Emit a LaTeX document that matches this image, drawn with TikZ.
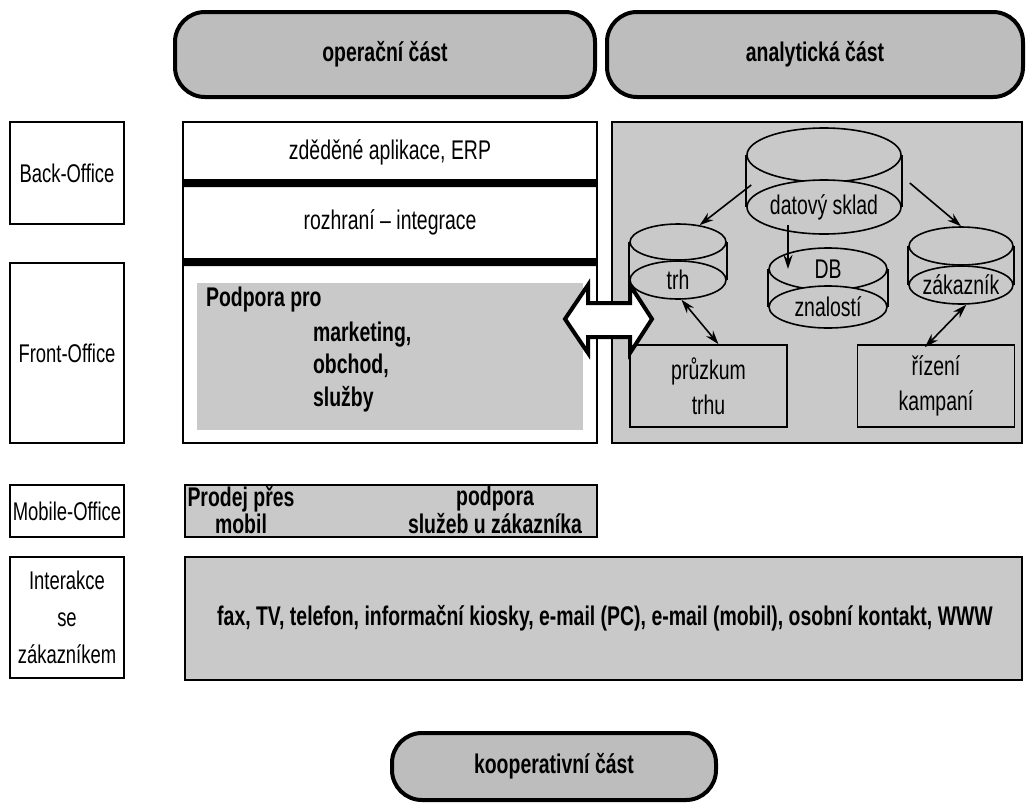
\documentclass[tikz,border=0pt]{standalone}
\usepackage{fontspec}
\setmainfont{Liberation Sans}[FakeStretch=0.72]
\usepackage{tikz}
\usetikzlibrary{arrows.meta,shapes}
\definecolor{panel}{gray}{0.79}
\definecolor{pillgray}{gray}{0.74}

\begin{document}
\begin{tikzpicture}[>={Stealth[length=7pt,width=4.5pt]},x=0.5pt,y=-0.5pt,
every node/.style={font=\fontsize{13.5}{16}\selectfont},
part/.style={draw,line width=2pt,fill=pillgray,rounded corners=15pt,font=\fontsize{13.5}{16}\selectfont\bfseries},
office/.style={draw,line width=1pt,fill=white,minimum width=57pt,inner sep=1pt,align=center,font=\fontsize{12.8}{16}\selectfont},
cyl/.style={ellipse,draw,line width=0.8pt,fill=panel,inner sep=0pt},
task/.style={draw,line width=0.8pt,fill=panel,minimum width=78.5pt,minimum height=41pt,align=center,font=\fontsize{13.5}{17.5}\selectfont}]
\useasboundingbox(0,0)rectangle(1028,804);
%% headings
\node[part,minimum width=210pt,minimum height=42.5pt](oper)at(385,54.5){operační část};
\node[part,minimum width=208pt,minimum height=42.5pt](anal)at(815,54.5){analytická část};
\node[part,minimum width=162pt,minimum height=33.5pt](koop)at(554,766.5){kooperativní část};
%% left column
\node[office,minimum height=51pt](back)at(67,173){Back-Office};
\node[office,minimum height=90pt](front)at(67,353){Front-Office};
\node[office,minimum height=26pt](mobile)at(67,511){Mobile-Office};
\node[office,minimum height=60.5pt,font=\fontsize{12.8}{18.5}\selectfont](inter)at(67,617.5){Interakce\\se\\zákazníkem};
%% operational part
\draw[line width=1pt](183,122)rectangle(597,443);
\fill(183,179)rectangle(597,187)(183,258)rectangle(597,266);
\node(legacy)at(390,152){zděděné aplikace, ERP};
\node(iface)at(390,222){rozhraní -- integrace};
\node[fill=panel,minimum width=193pt,minimum height=73.5pt](sales)at(390,356.5){};
\node[anchor=west,font=\fontsize{13.5}{16}\selectfont\bfseries](supp)at(199,300){Podpora pro};
\node[anchor=west,align=left,font=\fontsize{13.5}{16.25}\selectfont\bfseries](areas)at(306,367){marketing,\\obchod,\\služby};
%% analytical part
\draw[line width=1pt,fill=panel](612,122)rectangle(1022,443);
\node[cyl,minimum width=77pt,minimum height=27pt](dsT)at(824,155){};
\node[cyl,minimum width=77pt,minimum height=27pt,label=center:datový sklad](ds)at(824,207){};
\draw[line width=0.8pt](dsT.west)--(ds.west)(dsT.east)--(ds.east);
\node[cyl,minimum width=48pt,minimum height=18pt](trhT)at(678,242){};
\node[cyl,minimum width=48pt,minimum height=19pt,label=center:trh](trh)at(678,280){};
\draw[line width=0.8pt](trhT.west)--(trh.west)(trhT.east)--(trh.east);
\node[cyl,minimum width=59pt,minimum height=21pt,label=center:DB](dbT)at(828,269){};
\node[cyl,minimum width=59pt,minimum height=21pt,label=center:znalostí](db)at(828,307){};
\draw[line width=0.8pt](dbT.west)--(db.west)(dbT.east)--(db.east);
\node[cyl,minimum width=52pt,minimum height=19pt](zakT)at(961,246){};
\node[cyl,minimum width=52pt,minimum height=19pt,label=center:zákazník](zak)at(961,285){};
\draw[line width=0.8pt](zakT.west)--(zak.west)(zakT.east)--(zak.east);
\node[task](pruz)at(708.5,386){průzkum\\trhu};
\node[task](riz)at(936,386){řízení\\kampaní};
\draw[->,line width=0.8pt]([shift={(5,30)}]dsT.west)--(trhT.38);
\draw[->,line width=0.8pt]([shift={(8,28)}]dsT.east)--(zakT.north);
\draw[->,line width=0.8pt]([shift={(-36,18)}]ds.center)--([shift={(-40,0)}]dbT.center);
\draw[<->,line width=0.8pt](trh.-80)--([shift={(10,0)}]pruz.north);
\draw[<->,line width=0.8pt](zak.-75)--([shift={(-11,3)}]riz.north);
%% link between parts
\draw[line width=2pt,fill=white](565,319)--(588,285)--(588,303)--(630,303)--(630,285)--(652,319)
--(630,353)--(630,337)--(588,337)--(588,353)--cycle;
%% mobile and interaction
\draw[line width=1pt,fill=panel](185,485)rectangle(597,537);
\node[align=center,font=\fontsize{13.5}{12.5}\selectfont\bfseries](sell)at(241,510){Prodej přes\\mobil};
\node[align=center,font=\fontsize{13.5}{12.5}\selectfont\bfseries](care)at(495,510){podpora\\služeb u zákazníka};
\draw[line width=1pt,fill=panel](185,557)rectangle(1022,680);
\node[font=\fontsize{13.5}{16}\selectfont\bfseries](chan)at(605,618){fax, TV, telefon, informační kiosky, e-mail (PC), e-mail (mobil), osobní kontakt, WWW};
\end{tikzpicture}
\end{document}
